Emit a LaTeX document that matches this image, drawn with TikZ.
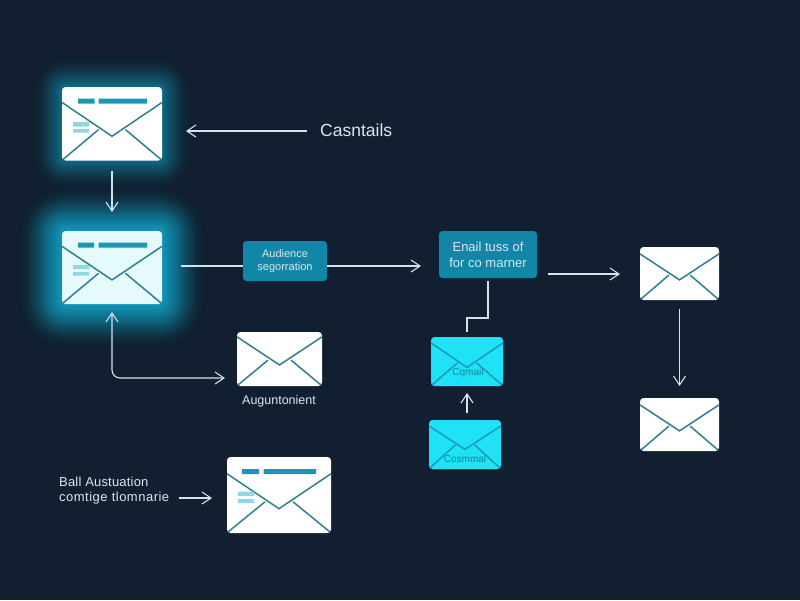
\documentclass[tikz,border=0pt]{standalone}
\usepackage{fontspec}
\setmainfont{Liberation Sans}
\usetikzlibrary{arrows.meta,calc}
\definecolor{bgc}{HTML}{111F30}
\definecolor{wire}{HTML}{D3E3EA}
\definecolor{tealbox}{HTML}{1186A6}
\definecolor{tealline}{HTML}{2F7F90}
\definecolor{barc}{HTML}{1A97B5}
\definecolor{barl}{HTML}{8FD8E2}
\definecolor{cyanbox}{HTML}{1FE2F6}
\definecolor{cyanline}{HTML}{1A9DB4}
\definecolor{glowc}{HTML}{0FB4D6}
\definecolor{paleenv}{HTML}{E6FAFC}
\definecolor{labelc}{HTML}{DCE6EC}
\tikzset{
  x=1pt,y=-1pt,
  tipbarb/.tip={Straight Barb[length=9pt,width=12pt,line width=1.1pt]},
  envbox/.style={rectangle,rounded corners=3.5pt,inner sep=0pt,outer sep=0pt,draw=none},
  arr/.style={draw=wire,line width=1.1pt,-tipbarb},
  plainwire/.style={draw=wire,line width=1.1pt},
  tealnode/.style={rectangle,rounded corners=3.5pt,fill=tealbox,inner sep=0pt,outer sep=0pt,align=center,text=labelc},
  lab/.style={text=labelc,inner sep=0pt,align=center},
  envtext/.style={text=cyanline!85!black,inner sep=0pt,font=\fontsize{10}{12}\selectfont},
}
% name, x1, y1, x2, y2, fill, line, flap start fraction, apex fraction
\newcommand\envmail[9]{%
  \pgfmathsetmacro\ew{#4-#2}\pgfmathsetmacro\eh{#5-#3}%
  \pgfmathsetmacro\ecx{(#4+#2)/2}\pgfmathsetmacro\ecy{(#5+#3)/2}%
  \pgfmathsetmacro\elow{(1-#9+.09)*\eh}%
  \node[envbox,fill=#6,minimum width=\ew pt,minimum height=\eh pt] (#1) at (\ecx,\ecy) {};
  \draw[#7,line width=1.5pt,line join=miter]
    ($(#1.north west)!#8!(#1.south west)$) -- ($(#1.north)!#9!(#1.south)$) -- ($(#1.north east)!#8!(#1.south east)$);
  \draw[#7,line width=1.5pt] ($(#1.south west)+(1,-1)$) -- ($(#1.south west)!.365!(#1.south east)+(0,-\elow)$);
  \draw[#7,line width=1.5pt] ($(#1.south east)+(-1,-1)$) -- ($(#1.south west)!.635!(#1.south east)+(0,-\elow)$);
}
% x1,y1,x2,y2,max radius,peak layer opacity
\newcommand\glowrect[6]{%
  \foreach \gr in {#5,...,1}{
    \pgfmathsetmacro\grc{\gr+4}
    \pgfmathsetmacro\gop{#6*(1-\gr/(#5+1))}
    \fill[glowc,opacity=\gop,rounded corners=\grc pt] (#1-\gr,#2-\gr) rectangle (#3+\gr,#4+\gr);
  }
}
\begin{document}
\begin{tikzpicture}
\fill[bgc] (0,0) rectangle (800,600);
\useasboundingbox (0,0) rectangle (800,600);

\glowrect{62}{87}{162}{160}{32}{.05}
\glowrect{62}{231}{162}{304}{46}{.075}

% top-left envelope
\envmail{mailA}{62}{87}{162}{160.5}{white}{tealline}{.21}{.67}
\fill[barc] (78,98.5) rectangle (94.5,103.5) (98.5,98.5) rectangle (147,103.5);
\fill[barl] (73,122) rectangle (89,126.5) (73,129) rectangle (89,132.5);

% glowing envelope
\envmail{mailB}{62}{231}{162}{304}{paleenv}{tealline}{.21}{.67}
\fill[barc] (78,242.5) rectangle (94,247.5) (98.5,242.5) rectangle (147,247.5);
\fill[barl] (73,265) rectangle (89,269) (73,272) rectangle (89,275.5);

% plain envelopes
\envmail{mailC}{237}{332}{322}{386}{white}{tealline}{.09}{.61}
\envmail{mailD}{640}{247}{719}{300}{white}{tealline}{.13}{.62}
\envmail{mailE}{640}{398}{719}{451}{white}{tealline}{.13}{.62}

% bottom envelope
\envmail{mailF}{227}{457}{331}{533}{white}{tealline}{.22}{.68}
\fill[barc] (242,469) rectangle (259,474) (263.5,469) rectangle (316,474);
\fill[barl] (238,491.5) rectangle (254,496) (238,499) rectangle (254,503);

% cyan envelopes
\envmail{mailG}{431}{337}{503}{386}{cyanbox}{cyanline}{.12}{.62}
\envmail{mailH}{429}{420}{501}{469}{cyanbox}{cyanline}{.12}{.6}
\node[envtext] (txtG) at (468,373) {Cqmail};
\node[envtext] (txtH) at (465,458.5) {Cosmmal};

% teal boxes
\node[tealnode,minimum width=84pt,minimum height=40pt,font=\fontsize{11}{13.5}\selectfont] (aud) at (285,261) {Audience\\segorration};
\node[tealnode,minimum width=98pt,minimum height=47pt,font=\fontsize{13}{16}\selectfont] (tuse) at (488,254.5) {Enail tuss of\\for co marner};

% labels
\node[lab,anchor=west,font=\fontsize{17.5}{20}\selectfont] (lblA) at (320,130) {Casntails};
\node[lab,font=\fontsize{12.5}{15}\selectfont] (lblC) at (279,401) {Auguntonient};
\node[lab,anchor=west,align=left,font=\fontsize{13}{15}\selectfont] (lblF) at (59,491) {{\addfontfeature{LetterSpace=1.5}Ball Austuation}\\{\addfontfeature{LetterSpace=3.8}comtige tlomnarie}};

% connector end points
\coordinate (startA) at (307,131);
\coordinate (tipA) at (186,131);
\coordinate (outB) at (181,266);
\coordinate (audR) at (327,266);
\coordinate (tipAud) at (421,266);
\coordinate (startT) at (548,274);
\coordinate (tipT) at (620,274);
\coordinate (cornerBC) at (112,378);
\coordinate (tipBC) at (225,378);
\coordinate (audL) at (243,266);
\coordinate (bendA) at (488,318);
\coordinate (bendB) at (467,318);
\coordinate (endG) at (467,332);
\coordinate (startH) at (467,413);
\coordinate (tipH) at (467,393);
\coordinate (startF) at (179,498);
\coordinate (tipF) at (212,498);

% connectors
\draw[arr] (startA) -- (tipA);
\draw[arr,shorten <=10pt,shorten >=19pt] (mailA.south) -- (mailB.north);
\draw[plainwire] (outB) -- (audL);
\draw[arr] (audR) -- (tipAud);
\draw[arr] (startT) -- (tipT);
\draw[arr,shorten <=9pt,shorten >=12pt] (mailD.south) -- (mailE.north);
\draw[tipbarb-tipbarb,plainwire,rounded corners=8pt,shorten <=8pt]
  (mailB.south) -- (cornerBC) -- (tipBC);
\draw[plainwire,shorten <=3pt] (tuse.south) -- (bendA) -- (bendB) -- (endG);
\draw[arr] (startH) -- (tipH);
\draw[arr] (startF) -- (tipF);
\end{tikzpicture}
\end{document}
